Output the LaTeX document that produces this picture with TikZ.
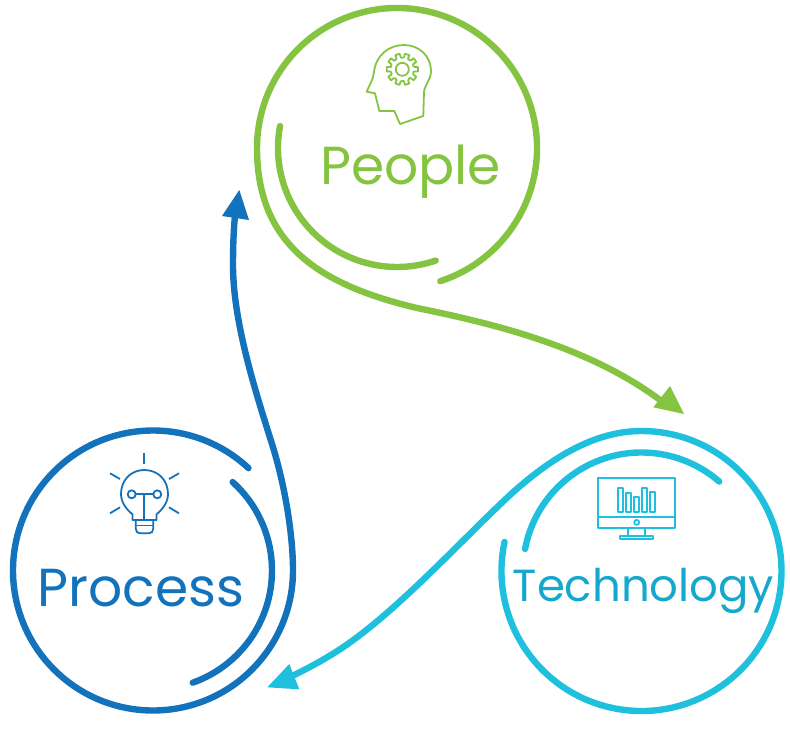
\documentclass[tikz,border=0pt]{standalone}
\usepackage{fontspec}
\setmainfont{Poppins}
\definecolor{cgreen}{HTML}{84C440}
\definecolor{cblue}{HTML}{1272BC}
\definecolor{ccyan}{HTML}{1FC0DE}
\definecolor{ctext}{HTML}{16A8CC}
\tikzset{
  ring/.style={line width=6.4pt,line cap=round,line join=round},
  icon/.style={line width=1.8pt,line join=round},
  lab/.style={inner sep=0pt,anchor=base west,font=\fontsize{53.5}{53.5}\selectfont},
  labsmall/.style={inner sep=0pt,anchor=base west,font=\fontsize{45}{45}\selectfont}
}
\begin{document}
\begin{tikzpicture}[x=1pt,y=-1pt]
\useasboundingbox (0,0) rectangle (790,731);
% People
\draw[ring,cgreen] (397,148) ++(72:140) arc[start angle=72,end angle=-180,radius=140]
  .. controls (257,245) and (320,285) .. (417,308)
  .. controls (490,323) and (590,346) .. (664,403);
\draw[ring,cgreen] (397,148) ++(190.6:119) arc[start angle=190.6,end angle=71,radius=119];
\fill[cgreen] (684,414) -- (653.3,407.3) -- (670,386) -- cycle;
\node[lab,text=cgreen] (people) at (320,184.5) {People};
\draw[icon,cgreen] (423.3,116) -- (424,91.7) .. controls (425,84) and (431,80) .. (431,71)
  .. controls (431,56) and (419,45) .. (404,45) .. controls (389,45) and (376,55) .. (374,72)
  -- (372.7,78.3) -- (366.7,91.7) -- (375,93.3) -- (379.3,111) -- (394.3,111) -- (400,124) -- cycle;
\draw[icon,cgreen] (402.3,69.3) circle[radius=6.5];
\foreach \a in {0,36,...,324}
  \draw[icon,cgreen]
    ({402.3+11.7*cos(\a-11)},{69.3+11.7*sin(\a-11)})
    -- ({402.3+15.8*cos(\a-8)},{69.3+15.8*sin(\a-8)})
    -- ({402.3+15.8*cos(\a+8)},{69.3+15.8*sin(\a+8)})
    -- ({402.3+11.7*cos(\a+11)},{69.3+11.7*sin(\a+11)})
    -- ({402.3+11.7*cos(\a+25)},{69.3+11.7*sin(\a+25)});
% Process
\draw[ring,cblue] (153,570.5) ++(-47:140) arc[start angle=-47,end angle=-360,radius=140]
  .. controls (293,535) and (285,485) .. (271.7,443)
  .. controls (255,390) and (232.5,320) .. (233,263)
  .. controls (233.1,245) and (233.5,232) .. (235,215);
\draw[ring,cblue] (153,570.5) ++(-48:119) arc[start angle=-48,end angle=70.5,radius=119];
\fill[cblue] (239.3,190) -- (249,220) -- (222,216) -- cycle;
\node[lab,text=cblue] (process) at (37.5,606.5) {Process};
\begin{scope}[icon,cblue]
\draw (144.3,453.3) -- (144.3,464.3);
\draw (110,473.3) -- (120,479);
\draw (169,479) -- (179,473.3);
\draw (110,513.3) -- (120,507.3);
\draw (169,507.3) -- (179,513.3);
\draw (132.5,520) -- (132.5,514.3) .. controls (126,509) and (121,502) .. (121,494)
  .. controls (121,480) and (131,470) .. (144.3,470) .. controls (158,470) and (168,480) .. (168,494)
  .. controls (168,502) and (163,509) .. (156.5,514.3) -- (156.5,520) -- cycle;
\draw (135.7,520) -- (135.7,528.5) .. controls (135.7,531.5) and (137.5,533.3) .. (140,533.3) -- (149,533.3)
  .. controls (151.5,533.3) and (153.3,531.5) .. (153.3,528.5) -- (153.3,520);
\draw (135.7,525.5) -- (153.3,525.5);
\draw (131.7,494.3) circle[radius=4];
\draw (157.3,494.3) circle[radius=4];
\draw (135.7,494.3) -- (153.3,494.3);
\draw (144.3,494.3) -- (144.3,520);
\end{scope}
% Technology
\draw[ring,ccyan] (641.5,571) ++(192:140) arc[start angle=192,end angle=-90,radius=140]
  .. controls (598,431) and (555,454) .. (510,495)
  .. controls (470,532) and (410,597) .. (360,635)
  .. controls (338,652) and (315,665) .. (290,677);
\draw[ring,ccyan] (641.5,571) ++(-169.3:118.5) arc[start angle=-169.3,end angle=-49,radius=118.5];
\fill[ccyan] (267.3,687.3) -- (289.3,664) -- (299.3,689.3) -- cycle;
\node[labsmall,text=ctext] (technology) at (512.5,601.7) {Technology};
\begin{scope}[icon,ccyan]
\draw (598.3,478.3) rectangle (675,528.3);
\draw (598.3,516.7) -- (675,516.7);
\draw (636.7,522.4) circle[radius=2.5];
\draw (628.3,528.3) -- (628.3,535.7);
\draw (645,528.3) -- (645,535.7);
\draw (620,535.7) rectangle (653.3,539);
\draw (617.7,487.7) rectangle (622.7,512.3);
\draw (625.7,492.7) rectangle (630.7,512.3);
\draw (634,496.7) rectangle (639,512.3);
\draw (642,487.7) rectangle (647.3,512.3);
\draw (650,491.7) rectangle (655,512.3);
\end{scope}
\end{tikzpicture}
\end{document}
